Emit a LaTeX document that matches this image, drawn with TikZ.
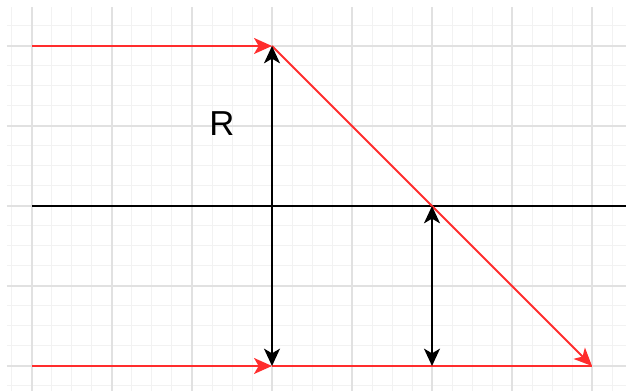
\documentclass[tikz,border=0pt]{standalone}
\usepackage{fontspec}
\setmainfont{Liberation Sans}
\usetikzlibrary{arrows.meta,positioning}
\definecolor{cRay}{RGB}{255,45,45}
\definecolor{cMinor}{RGB}{242,242,242}
\definecolor{cMajor}{RGB}{225,225,225}
\begin{document}
\begin{tikzpicture}[
    x=60pt, y=60pt,
    ray/.style={draw=cRay,line width=1.4pt},
    dim/.style={draw=black,line width=1.4pt,{Stealth[length=13pt,width=12pt,inset=3.5pt]}-{Stealth[length=13pt,width=12pt,inset=3.5pt]}},
    >={Stealth[length=13.5pt,width=12pt,inset=3.5pt]}
  ]
  \useasboundingbox (-0.4,-0.3125) rectangle (7.425,4.575);
  % grid
  \draw[cMinor,line width=0.75pt,step=0.25] (-0.3125,-0.3125) grid (7.425,4.4875);
  \draw[cMajor,line width=1pt,step=1] (-0.3125,-0.3125) grid (7.425,4.4875);

  \coordinate (a) at (0,4);
  \coordinate (b) at (3,4);
  \coordinate (e) at (0,0);
  \coordinate (f) at (3,0);
  \coordinate (g) at (5,0);
  \coordinate (c) at (5,2);
  \coordinate (d) at (7,0);
  \coordinate (axl) at (0,2);
  \coordinate (axr) at (7.425,2);

  \draw[black,line width=1.4pt] (axl) -- (axr);
  \draw[ray,->] (a) -- (b);
  \draw[ray,->] (e) -- (f);
  \draw[ray] (f) -- (d);
  \draw[ray,->] (b) -- (c) -- (d);
  \draw[dim] (f) -- (b);
  \draw[dim] (g) -- (c);

  \node[font=\fontsize{26}{30}\selectfont] (lblR) at (2.375,3.025) {R};
\end{tikzpicture}
\end{document}
